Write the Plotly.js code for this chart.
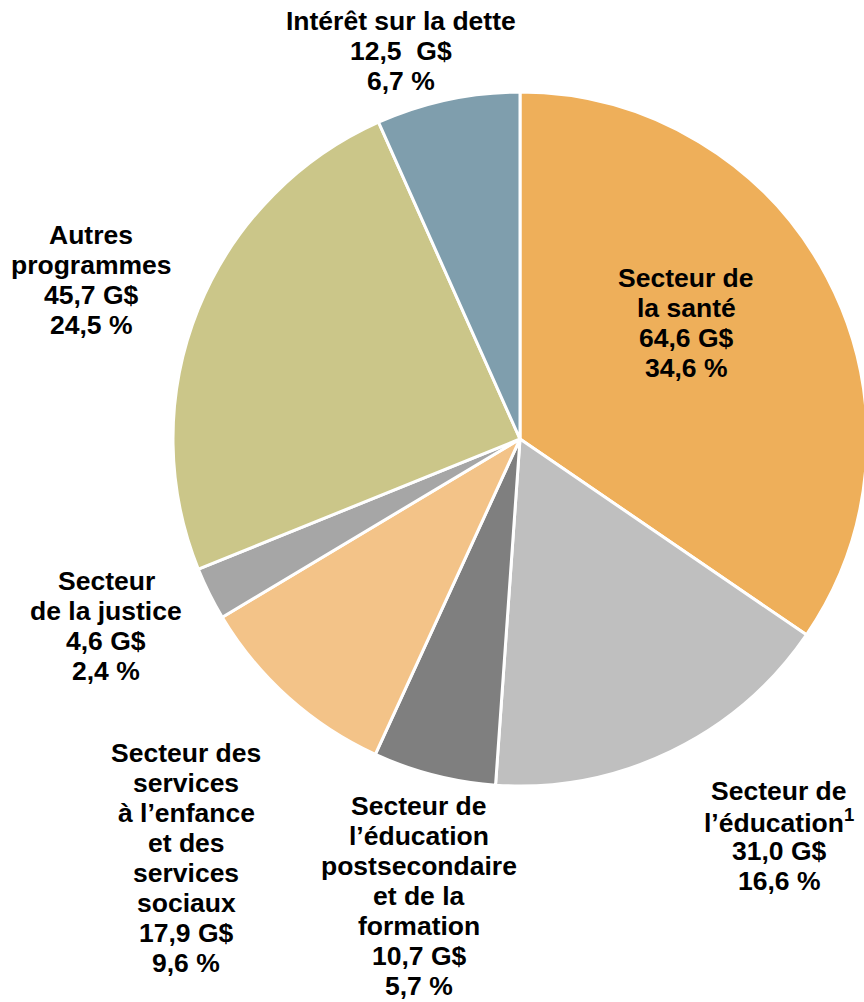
<!DOCTYPE html>
<html>
<head>
<meta charset="utf-8">
<script src="https://cdn.plot.ly/plotly-3.0.1.min.js"></script>
<style>
html, body { margin:0; padding:0; overflow:hidden; background:#fff; }
#chart { width:872px; height:1002px; }
</style>
</head>
<body>
<div id="chart"></div>
<script>
// ---- Data ----
const categories = [
  "Secteur de la santé",
  "Secteur de l’éducation",
  "Secteur de l’éducation postsecondaire et de la formation",
  "Secteur des services à l’enfance et des services sociaux",
  "Secteur de la justice",
  "Autres programmes",
  "Intérêt sur la dette"
];
const labelLines = [
  ["Secteur de", "la santé"],
  ["Secteur de", "l’éducation<sup>1</sup>"],
  ["Secteur de", "l’éducation", "postsecondaire", "et de la", "formation"],
  ["Secteur des", "services", "à l’enfance", "et des", "services", "sociaux"],
  ["Secteur", "de la justice"],
  ["Autres", "programmes"],
  ["Intérêt sur la dette"]
];
const valuesGD = [64.6, 31.0, 10.7, 17.9, 4.6, 45.7, 12.5];
const percents = [34.6, 16.6, 5.7, 9.6, 2.4, 24.5, 6.7];
const colors = ["#EEAF5A", "#BFBFBF", "#7F7F7F", "#F3C388", "#A6A6A6", "#CBC689", "#7F9EAD"];

// ---- Layout geometry (pixels) ----
const W = 872, H = 1002;
const CX = 520, CY = 439, R = 347;
// label anchor: center x, center y of first line
const labelPos = [
  [686, 278], [779, 791], [419, 806], [186, 753], [106, 581], [91, 235], [401, 21]
];
const LINE = 30;

function fmt(v) { return v.toFixed(1).replace('.', ','); }

const annotations = [];
categories.forEach((c, i) => {
  const lines = labelLines[i].concat([fmt(valuesGD[i]) + (i === 6 ? "  G$" : " G$"), fmt(percents[i]) + " %"]);
  lines.forEach((t, k) => {
    annotations.push({
      xref: 'paper', yref: 'paper',
      x: labelPos[i][0] / W,
      y: 1 - (labelPos[i][1] + k * LINE) / H,
      xanchor: 'center', yanchor: 'middle',
      text: '<b>' + t + '</b>',
      showarrow: false,
      font: { family: 'Liberation Sans, Arial, sans-serif', size: 26.5, color: '#000' }
    });
  });
});

const trace = {
  type: 'pie',
  labels: categories,
  values: valuesGD,
  sort: false,
  direction: 'clockwise',
  rotation: 0,
  textinfo: 'none',
  hoverinfo: 'label+value+percent',
  marker: { colors: colors, line: { color: '#ffffff', width: 3 } },
  domain: {
    x: [(CX - R) / W, (CX + R) / W],
    y: [(H - CY - R) / H, (H - CY + R) / H]
  },
  showlegend: false
};

const layout = {
  width: W, height: H,
  margin: { l: 0, r: 0, t: 0, b: 0, pad: 0 },
  paper_bgcolor: '#fff',
  showlegend: false,
  annotations: annotations
};

Plotly.newPlot('chart', [trace], layout, { displayModeBar: false, staticPlot: true });
</script>
</body>
</html>
